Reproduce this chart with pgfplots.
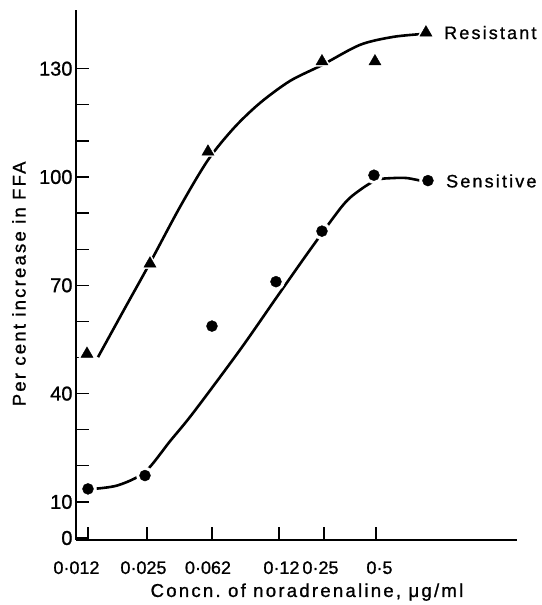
\documentclass[border=0pt]{standalone}
\usepackage{fontspec}
\setmainfont{Liberation Sans}[FakeBold=1]
\newfontfamily\spaced{Liberation Sans}[LetterSpace=12, FakeBold=1]
\usepackage{pgfplots}
\pgfplotsset{compat=1.18}
% tick label moved sideways from its tick by #1/2
\newcommand\tl[2]{\makebox[0pt]{\hspace*{#1}#2}}

\begin{document}
\begin{tikzpicture}
\begin{axis}[
  scale only axis,
  width=441pt, height=530pt,
  xmin=76, xmax=517, ymin=-0.5, ymax=146.3,
  axis lines*=left,
  axis line style={line width=2.6pt},
  tick align=inside,
  major tick length=13pt,
  tick style={line width=1.3pt, black},
  xtick={88,147,212,279,324,376},
  xticklabels={\tl{-23pt}{0·012},\tl{-7pt}{0·025},\tl{-8pt}{0·062},
    \tl{5pt}{0·12},\tl{-7pt}{0·25},\tl{7pt}{0·5}},
  xticklabel style={font=\fontsize{18}{20}\selectfont, yshift=-18pt},
  ytick={0,10,...,130},
  yticklabels={0,10,,,40,,,70,,,100,,,130},
  yticklabel style={font=\fontsize{20}{22}\selectfont},
  clip=false,
]
% invisible frame of the reference picture
\path (axis cs:0,149.03) rectangle (axis cs:542,-18.56);

% fitted curves
\addplot[smooth, line width=2.6pt] coordinates {
  (98,50.1)(124,63.2)(150,76.2)(180,91.7)(208,104.7)(234,113.6)(260,120.5)
  (290,126.6)(322,131)(360,136.6)(393,138.8)(422,139.6)
};
\addplot[smooth, line width=2.6pt] coordinates {
  (93,13.6)(118,14.6)(145,18.3)(170,26.8)(193,34.6)(240,52.1)(277,66.8)
  (310,79.8)(343,92.2)(360,96.4)(377,99.2)(393,99.7)(407,99.7)(422,98.9)
};

% white halos round the points
\addplot[only marks, mark=triangle*, mark size=10pt, white] coordinates {
  (87,51)(150,76)(208,107)(322,132)(375,132)(426,140)
};
\addplot[only marks, mark=*, mark size=8.5pt, white] coordinates {
  (88,13.6)(145,17.3)(212,58.7)(276,71)(322,85)(374,100.5)(428,99)
};

% Resistant
\addplot[only marks, mark=triangle*, mark size=7pt, black] coordinates {
  (87,51)(150,76)(208,107)(322,132)(375,132)(426,140)
};
% Sensitive
\addplot[only marks, mark=*, mark size=5.5pt, black] coordinates {
  (88,13.6)(145,17.3)(212,58.7)(276,71)(322,85)(374,100.5)(428,99)
};

\node[anchor=west, inner sep=0pt, font=\spaced\fontsize{18}{20}\selectfont]
  at (axis cs:444,140) {Resistant};
\node[anchor=west, inner sep=0pt, font=\spaced\fontsize{18}{20}\selectfont]
  at (axis cs:446,98.9) {Sensitive};

\node[inner sep=0pt, font=\spaced\fontsize{18.6}{20}\selectfont]
  at (axis cs:307,-15) {Concn.\ of noradrenaline, μg/ml};
\node[inner sep=0pt, rotate=90, font=\spaced\fontsize{18.5}{20}\selectfont]
  at (axis cs:19,70.4) {Per cent increase in FFA};
\end{axis}
\end{tikzpicture}
\end{document}
